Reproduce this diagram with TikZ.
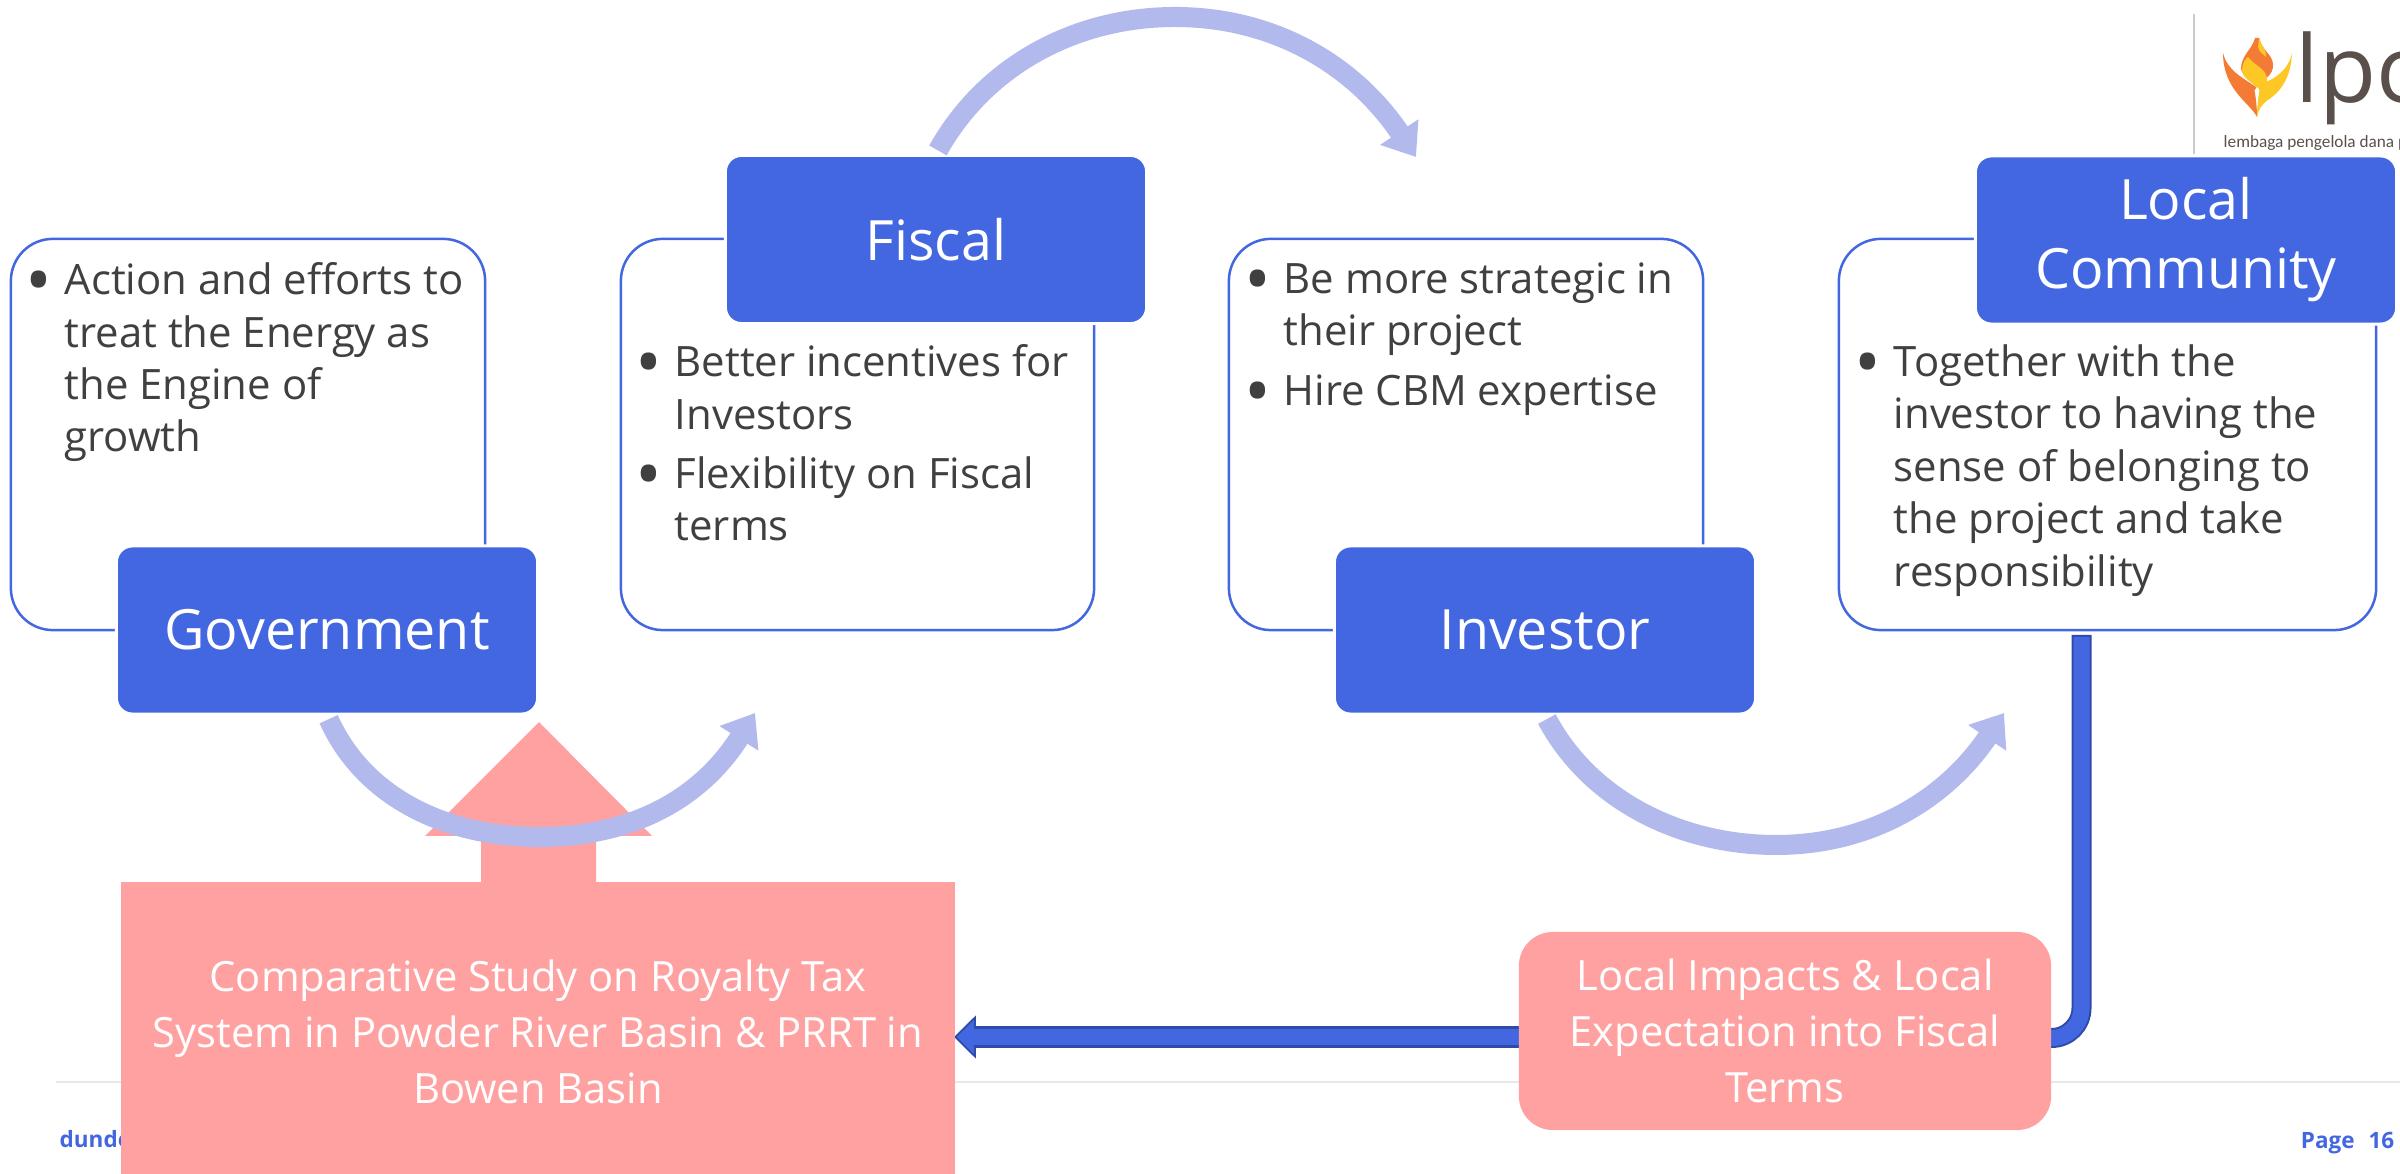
\documentclass[tikz,border=0pt]{standalone}
\usepackage{fontspec}
\setmainfont{Open Sans}
\newfontfamily\logofont{Carlito}
\usepackage{xcolor}
\usetikzlibrary{arrows.meta,calc,backgrounds}

\definecolor{royal}{HTML}{4367E0}
\definecolor{royaldark}{HTML}{2F4BA8}
\definecolor{paleroyal}{HTML}{B2B9EC}
\definecolor{salmon}{HTML}{FFA0A1}
\definecolor{bodygrey}{HTML}{404040}
\definecolor{logogrey}{HTML}{5A504B}
\definecolor{flameorange}{HTML}{F47B36}
\definecolor{flameyellow}{HTML}{FDC826}

\newcommand{\itemmark}{\makebox[0.33cm][l]{\raisebox{-0.11cm}{\hspace{-0.06cm}\scalebox{1.7}{•}}}}
\newcommand{\itemgap}{\hspace*{0.33cm}}

\tikzset{
    whitebox/.style={draw=royal, fill=white, line width=0.025cm, rounded corners=0.42cm, minimum height=3.91cm},
    bluebox/.style={draw=white, fill=royal, text=white, line width=0.03cm, rounded corners=0.16cm, minimum width=4.21cm, minimum height=1.68cm, align=center, font=\fontsize{15.8pt}{19.6pt}\selectfont},
    bodytext/.style={anchor=north west, align=left, text=bodygrey, inner sep=0pt, font=\fontsize{11.9pt}{14.9pt}\selectfont},
    pinkbox/.style={fill=salmon, text=white, align=center, font=\fontsize{11.85pt}{16pt}\selectfont},
    flow/.style={paleroyal, line width=0.2cm, -{Triangle[length=0.3cm,width=0.44cm]}},
    footertext/.style={text=royal, inner sep=0pt, font=\bfseries\fontsize{6.4pt}{8pt}\selectfont}
}

\begin{document}
\begin{tikzpicture}[x=0.01cm, y=-0.01cm]
    \useasboundingbox (0,0) rectangle (2400,1174);
    \clip (0,0) rectangle (2400,1174);

    % Footer
    \draw[color=black!9, line width=0.025cm] (56,1082) -- (2400,1082);
    \node[footertext, anchor=base west] (footleft) at (59,1148) {dunde};
    \node[footertext, anchor=base east] (footright) at (2395,1149) {Page\hspace{0.14cm}16};

    % Logo
    \draw[color=black!20, line width=0.02cm] (2194,14) -- (2194,154);
    \fill[flameorange] (2223,53) .. controls (2226,66) and (2236,74) .. (2247,81) -- (2256,87) -- (2255,93) .. controls (2256,100) and (2257,108) .. (2257,117) .. controls (2250,103) and (2223,90) .. (2223,53);
    \fill[flameyellow] (2292,53) .. controls (2291,75) and (2283,90) .. (2268,100) .. controls (2262,104) and (2258,110) .. (2257,117) .. controls (2257,108) and (2258,100) .. (2259,93) -- (2258,86) -- (2268,81) .. controls (2280,76) and (2290,65) .. (2292,53);
    \fill[flameorange] (2255,38) .. controls (2252,50) and (2241,55) .. (2241,69) .. controls (2242,76) and (2252,80) .. (2257,86) .. controls (2262,80) and (2274,76) .. (2273,64) .. controls (2272,54) and (2263,52) .. (2259,38) -- cycle;
    \fill[flameyellow] (2242,70) .. controls (2243,62) and (2245,59) .. (2248,57) .. controls (2255,66) and (2265,68) .. (2267,78) -- (2267,82) -- (2257,88) .. controls (2252,82) and (2242,78) .. (2242,70);
    \fill[flameyellow] (2259,38) .. controls (2261,46) and (2267,50) .. (2266,57) .. controls (2263,54) and (2259,52) .. (2258,47) -- cycle;
    \fill[white] (2257,91) circle (2.5);
    \node[anchor=base west, inner sep=0pt, text=logogrey, font=\fontsize{26.5pt}{27pt}\selectfont] (logoname) at (2295,103) {lpc};
    \node[anchor=base west, inner sep=0pt, text=logogrey, font=\logofont\fontsize{4.9pt}{6pt}\selectfont] (logotag) at (2223,148) {lembaga pengelola dana p};

    % White boxes
    \node[whitebox, minimum width=4.74cm] (govbox) at (248,434.5) {};
    \node[whitebox, minimum width=4.73cm] (fiscalbox) at (857.5,434.5) {};
    \node[whitebox, minimum width=4.74cm] (investorbox) at (1466,434.5) {};
    \node[whitebox, minimum width=5.37cm] (communitybox) at (2107.5,434.5) {};

    % Box texts
    \node[bodytext] (govtext) at (31,262) {\itemmark Action and efforts to\\\itemgap treat the Energy as\\\itemgap the Engine of\\\itemgap growth};
    \node[bodytext] (fiscaltext) at (641,344) {\itemmark Better incentives for\\\itemgap Investors\\[0.07cm]\itemmark Flexibility on Fiscal\\\itemgap terms};
    \node[bodytext] (investortext) at (1250,262) {\itemmark Be more strategic in\\\itemgap their project\\[0.07cm]\itemmark Hire CBM expertise};
    \node[bodytext] (communitytext) at (1860,344) {\itemmark Together with the\\\itemgap investor to having the\\\itemgap sense of belonging to\\\itemgap the project and take\\\itemgap responsibility};

    % Blue boxes
    \node[bluebox] (government) at (327,630) {Government};
    \node[bluebox] (fiscal) at (936,239.5) {Fiscal};
    \node[bluebox] (investor) at (1545,630) {Investor};
    \node[bluebox] (community) at (2186,240) {Local\\Community};

    % Pink boxes
    \node[pinkbox, minimum width=8.34cm, minimum height=3cm] (study) at (538,1032) {Comparative Study on Royalty Tax\\System in Powder River Basin \& PRRT in\\Bowen Basin};
    \node[pinkbox, rounded corners=0.34cm, minimum width=5.32cm, minimum height=1.98cm] (impacts) at (1785,1031) {Local Impacts \& Local\\Expectation into Fiscal\\Terms};

    % Block arrow up from the study box
    \fill[salmon] (481,882) -- (481,836) -- (425,836) -- (539,722) -- (652,836) -- (596,836) -- (596,882) -- cycle;

    % Named free ends
    \coordinate (tipinvestor) at (1416,157);
    \coordinate (tipfiscal) at (755,713);
    \coordinate (tipcommunity) at (2004,713);
    \coordinate (bendtop) at (2081.5,635);

    % Curved arrows
    \draw[flow, shorten <=0.04cm] (government.south) .. controls (365,800) and (450,837) .. (539,837) .. controls (630,837) and (700,800) .. (tipfiscal);
    \draw[flow, shorten <=0.04cm] (fiscal.north) .. controls (985,66) and (1075,17) .. (1175,17) .. controls (1275,17) and (1355,66) .. (tipinvestor);
    \draw[flow, shorten <=0.04cm] (investor.south) .. controls (1590,800) and (1680,845) .. (1776,845) .. controls (1870,845) and (1945,800) .. (tipcommunity);

    % Block connectors, under the pink boxes
    \begin{scope}[on background layer]
        \draw[royaldark, line width=0.2cm, rounded corners=0.3cm] (bendtop) |- ($(impacts.center)+(0,7)$);
        \draw[royal, line width=0.16cm, rounded corners=0.3cm, shorten <=0.02cm] (bendtop) |- ($(impacts.center)+(0,7)$);
        \draw[royaldark, line width=0.21cm, -{Triangle[length=0.22cm,width=0.42cm]}] ($(impacts.center)+(0,6)$) -- ($(study.east)+(-2,5)$);
        \draw[royal, line width=0.16cm, shorten >=0.03cm, -{Triangle[length=0.17cm,width=0.33cm]}] ($(impacts.center)+(0,6)$) -- ($(study.east)+(-2,5)$);
    \end{scope}
\end{tikzpicture}
\end{document}
